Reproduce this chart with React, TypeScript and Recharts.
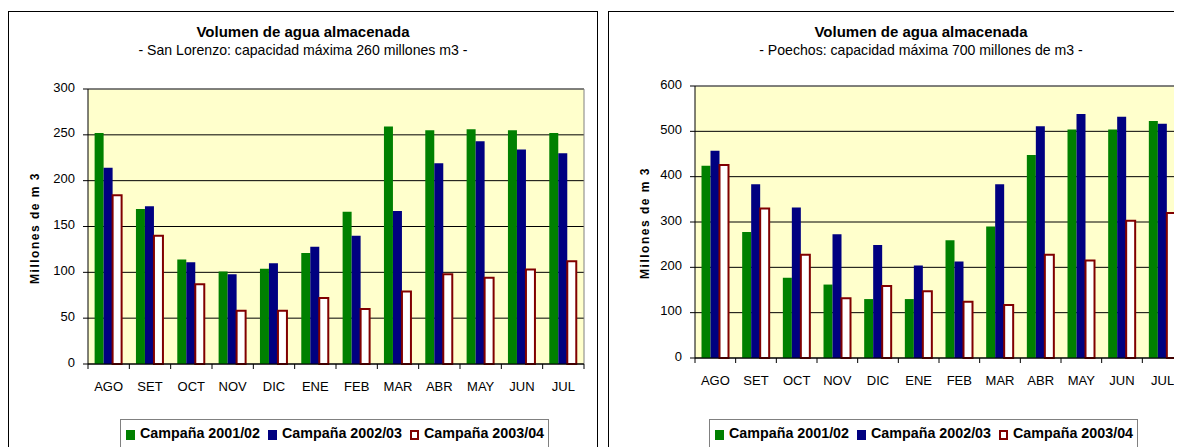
import React from 'react';
import { BarChart, Bar, XAxis, YAxis, CartesianGrid, ReferenceLine } from 'recharts';

const months = ['AGO', 'SET', 'OCT', 'NOV', 'DIC', 'ENE', 'FEB', 'MAR', 'ABR', 'MAY', 'JUN', 'JUL'];
const seriesNames = ['Campaña 2001/02', 'Campaña 2002/03', 'Campaña 2003/04'];

const sanLorenzo2001 = [252, 169, 114, 101, 104, 121, 166, 259, 255, 256, 255, 252];
const sanLorenzo2002 = [214, 172, 111, 98, 110, 128, 140, 167, 219, 243, 234, 230];
const sanLorenzo2003 = [184, 140, 87, 58, 58, 72, 60, 79, 98, 94, 103, 112];

const poechos2001 = [424, 278, 177, 162, 130, 130, 260, 290, 448, 504, 504, 523];
const poechos2002 = [457, 383, 332, 273, 249, 204, 213, 383, 511, 538, 532, 517];
const poechos2003 = [426, 330, 228, 132, 159, 147, 124, 117, 228, 215, 303, 320];

const sanLorenzoTicks = [0, 50, 100, 150, 200, 250, 300];
const poechosTicks = [0, 100, 200, 300, 400, 500, 600];

const FONT = '"Liberation Sans", Arial, sans-serif';
const GREEN = '#008000';
const NAVY = '#000080';
const MAROON = '#800000';
const PLOT_BG = '#FFFFCC';

function buildRows(a: number[], b: number[], c: number[]) {
  return months.map((m, i) => ({ month: m, s1: a[i], s2: b[i], s3: c[i] }));
}

const sanLorenzoRows = buildRows(sanLorenzo2001, sanLorenzo2002, sanLorenzo2003);
const poechosRows = buildRows(poechos2001, poechos2002, poechos2003);

const TICK_SIZE = 5;
const TICK_MARGIN = 2;

function CategoryTick(props: any) {
  const { x, y, payload, width, visibleTicksCount, index } = props;
  const bw = width / visibleTicksCount;
  const axisY = y - TICK_SIZE - TICK_MARGIN;
  return (
    <g>
      <line x1={x - bw / 2} x2={x - bw / 2} y1={axisY} y2={axisY + TICK_SIZE} stroke="#000" />
      {index === visibleTicksCount - 1 && (
        <line x1={x + bw / 2} x2={x + bw / 2} y1={axisY} y2={axisY + TICK_SIZE} stroke="#000" />
      )}
      <text x={x} y={y} dy={19.5} textAnchor="middle" fill="#000" fontSize={13} fontFamily={FONT}>
        {payload.value}
      </text>
    </g>
  );
}

function Legend() {
  const items = [
    { name: seriesNames[0], fill: GREEN, stroke: GREEN },
    { name: seriesNames[1], fill: NAVY, stroke: NAVY },
    { name: seriesNames[2], fill: '#fff', stroke: MAROON },
  ];
  return (
    <div style={{ display: 'flex', alignItems: 'center', paddingLeft: 5, paddingTop: 5 }}>
      {items.map((it, i) => (
        <div key={i} style={{ display: 'flex', alignItems: 'center', marginRight: 8 }}>
          <div
            style={{
              width: 9,
              height: 10,
              boxSizing: 'border-box',
              background: it.fill,
              border: `2px solid ${it.stroke}`,
              marginRight: 5,
              marginTop: 3,
            }}
          />
          <span style={{ fontWeight: 'bold', fontSize: 14.3, color: '#000', whiteSpace: 'nowrap' }}>{it.name}</span>
        </div>
      ))}
    </div>
  );
}

function Panel(props: {
  left: number;
  title: string;
  subtitle: string;
  titleCenter: number;
  rows: any[];
  ticks: number[];
  max: number;
  margin: { top: number; right: number; bottom: number; left: number };
  axisLabelX: number;
  axisLabelY: number;
  legendLeft: number;
  legendWidth: number;
}) {
  const { left, title, subtitle, titleCenter, rows, ticks, max, margin } = props;
  return (
    <>
      <div
        style={{
          position: 'absolute',
          left,
          top: 3,
          width: 590,
          height: 480,
          boxSizing: 'border-box',
          border: '1px solid #000',
          background: '#fff',
        }}
      />
      <div
        style={{
          position: 'absolute',
          left: titleCenter - 300,
          width: 600,
          top: 15,
          textAlign: 'center',
          fontWeight: 'bold',
          fontSize: 15,
          color: '#000',
        }}
      >
        {title}
      </div>
      <div
        style={{
          position: 'absolute',
          left: titleCenter - 300,
          width: 600,
          top: 34,
          textAlign: 'center',
          fontSize: 14.1,
          color: '#000',
        }}
      >
        {subtitle}
      </div>
      <div style={{ position: 'absolute', left, top: 0, width: 600, height: 420 }}>
        <BarChart
          width={600}
          height={420}
          data={rows}
          margin={margin}
          barGap={0}
          barCategoryGap="16%"
        >
          <CartesianGrid vertical={false} stroke="#000" fill={PLOT_BG} fillOpacity={1} />
          <CartesianGrid
            horizontal={false}
            stroke="#808080"
            verticalCoordinatesGenerator={({ offset }: any) => [offset.left + offset.width]}
          />
          <XAxis
            dataKey="month"
            interval={0}
            tickSize={TICK_SIZE}
            tickMargin={TICK_MARGIN}
            tickLine={false}
            axisLine={{ stroke: '#000' }}
            height={30}
            tick={<CategoryTick />}
          />
          <YAxis
            width={40}
            domain={[0, max]}
            ticks={ticks}
            interval={0}
            tickSize={5}
            tickMargin={8}
            axisLine={{ stroke: '#000' }}
            tickLine={{ stroke: '#000' }}
            tick={{ fill: '#000', fontSize: 13, fontFamily: FONT, dy: -2 }}
          />
          <ReferenceLine y={max} stroke="#808080" />
          <Bar dataKey="s1" name={seriesNames[0]} fill={GREEN} isAnimationActive={false} />
          <Bar dataKey="s2" name={seriesNames[1]} fill={NAVY} isAnimationActive={false} />
          <Bar
            dataKey="s3"
            name={seriesNames[2]}
            fill="#fff"
            stroke={MAROON}
            strokeWidth={2}
            isAnimationActive={false}
          />
        </BarChart>
      </div>
      <div
        style={{
          position: 'absolute',
          left: props.axisLabelX,
          top: props.axisLabelY,
          transform: 'translate(-50%, -50%) rotate(-90deg)',
          fontWeight: 'bold',
          fontSize: 12,
          letterSpacing: 1.5,
          whiteSpace: 'nowrap',
          color: '#000',
        }}
      >
        Millones de m 3
      </div>
      <div
        style={{
          position: 'absolute',
          left: props.legendLeft,
          top: 411,
          width: props.legendWidth,
          height: 60,
          boxSizing: 'border-box',
          border: '1px solid #808080',
          background: '#fff',
        }}
      >
        <Legend />
      </div>
    </>
  );
}

export default function App() {
  return (
    <div
      style={{
        position: 'relative',
        width: 1174,
        height: 439,
        overflow: 'hidden',
        fontFamily: FONT,
        background: '#fff',
      }}
    >
      <Panel
        left={0}
        title="Volumen de agua almacenada"
        subtitle="- San Lorenzo: capacidad máxima 260 millones m3 -"
        titleCenter={295}
        rows={sanLorenzoRows}
        ticks={sanLorenzoTicks}
        max={300}
        margin={{ top: 81, right: 24, bottom: 34, left: 40 }}
        axisLabelX={27}
        axisLabelY={220}
        legendLeft={112}
        legendWidth={429}
      />
      <Panel
        left={600}
        title="Volumen de agua almacenada"
        subtitle="- Poechos: capacidad máxima 700 millones de m3 -"
        titleCenter={913}
        rows={poechosRows}
        ticks={poechosTicks}
        max={600}
        margin={{ top: 78, right: 25, bottom: 40, left: 47 }}
        axisLabelX={637}
        axisLabelY={215}
        legendLeft={701}
        legendWidth={429}
      />
    </div>
  );
}
